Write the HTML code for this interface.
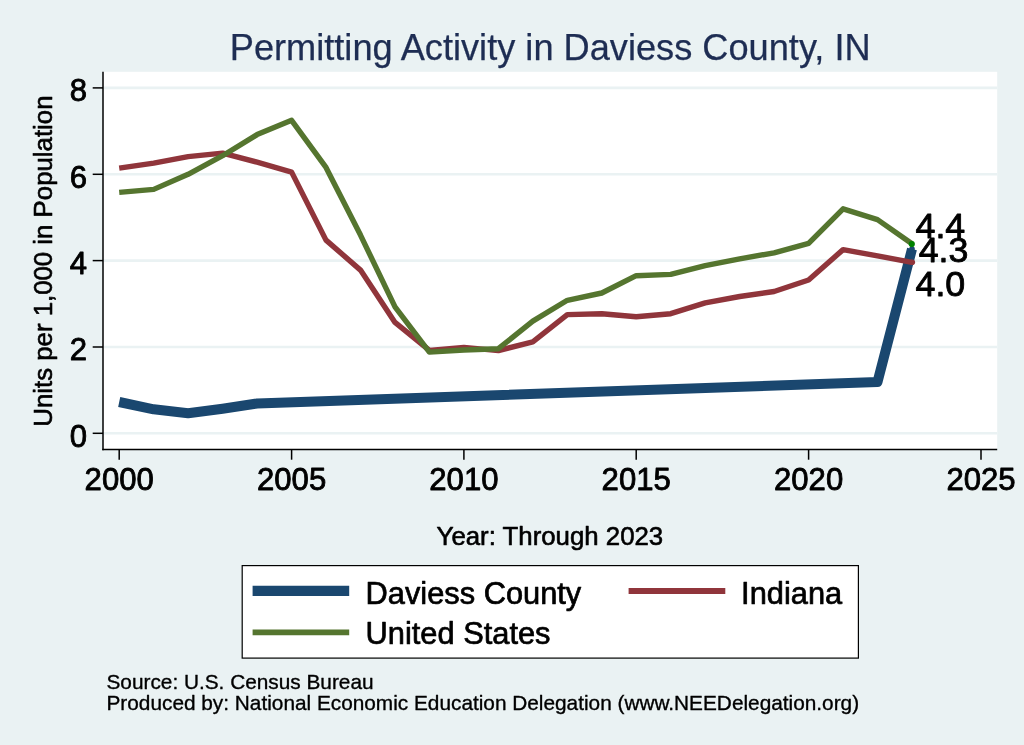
<!DOCTYPE html>
<html lang="en">
<head>
<meta charset="utf-8">
<title>Permitting Activity in Daviess County, IN</title>
<style>
html,body{margin:0;padding:0;background:#eaf2f3;}
body{width:1024px;height:745px;overflow:hidden;}
svg{display:block;}
text{font-family:"Liberation Sans",Arial,Helvetica,sans-serif;fill:#000;stroke:#000;stroke-width:0.85px;stroke-linejoin:round;}
.sm text{stroke-width:0.35px;}
.lg text{stroke-width:0.7px;}
</style>
</head>
<body>
<svg width="1024" height="745" viewBox="0 0 1024 745">
<rect x="0" y="0" width="1024" height="745" fill="#eaf2f3"/>
<rect x="103.0" y="71.8" width="894.2" height="377.7" fill="#ffffff"/>
<g stroke="#eaf2f3" stroke-width="2.6"><line x1="103.0" x2="997.2" y1="433.3" y2="433.3"/><line x1="103.0" x2="997.2" y1="347.0" y2="347.0"/><line x1="103.0" x2="997.2" y1="260.6" y2="260.6"/><line x1="103.0" x2="997.2" y1="174.3" y2="174.3"/><line x1="103.0" x2="997.2" y1="87.9" y2="87.9"/></g>
<g fill="none" stroke-linejoin="round" stroke-linecap="butt">
<polyline points="119.2,402.0 153.7,409.3 188.1,413.2 222.6,408.7 257.1,403.5 877.5,382.1 912.0,249.0" stroke="#1a476f" stroke-width="10"/>
<polyline points="119.2,168.2 153.7,163.1 188.1,156.6 222.6,153.1 257.1,162.2 291.6,172.1 326.0,240.1 360.5,270.1 395.0,322.4 429.4,350.4 463.9,347.4 498.4,350.6 532.8,341.8 567.3,314.6 601.8,313.7 636.2,316.7 670.7,313.7 705.2,302.9 739.7,296.5 774.1,291.5 808.6,280.0 843.1,249.6 877.5,255.9 912.0,262.3" stroke="#90353b" stroke-width="5.4"/>
<polyline points="119.2,192.4 153.7,189.4 188.1,174.3 222.6,155.7 257.1,134.6 291.6,120.3 326.0,167.4 360.5,235.1 395.0,306.8 429.4,352.1 463.9,350.0 498.4,348.7 532.8,321.1 567.3,300.3 601.8,293.0 636.2,275.7 670.7,274.4 705.2,265.6 739.7,258.9 774.1,252.8 808.6,243.4 843.1,208.8 877.5,219.6 912.0,243.8" stroke="#55752f" stroke-width="5.4"/>
</g>
<circle cx="912.0" cy="249.0" r="2.8" fill="#1a476f"/>
<circle cx="912.3" cy="262.3" r="2.8" fill="#90353b"/>
<circle cx="911.8" cy="244.0" r="3.1" fill="#008000"/>
<g stroke="#000" stroke-width="1.5">
<line x1="103.0" x2="103.0" y1="71.8" y2="450.2"/>
<line x1="102.3" x2="997.2" y1="449.5" y2="449.5"/>
<line x1="92.7" x2="103.0" y1="433.3" y2="433.3"/><line x1="92.7" x2="103.0" y1="347.0" y2="347.0"/><line x1="92.7" x2="103.0" y1="260.6" y2="260.6"/><line x1="92.7" x2="103.0" y1="174.3" y2="174.3"/><line x1="92.7" x2="103.0" y1="87.9" y2="87.9"/><line x1="119.2" x2="119.2" y1="449.5" y2="459.7"/><line x1="291.6" x2="291.6" y1="449.5" y2="459.7"/><line x1="463.9" x2="463.9" y1="449.5" y2="459.7"/><line x1="636.2" x2="636.2" y1="449.5" y2="459.7"/><line x1="808.6" x2="808.6" y1="449.5" y2="459.7"/><line x1="981.0" x2="981.0" y1="449.5" y2="459.7"/>
</g>
<g font-size="31.1px"><text x="87.1" y="446.5" text-anchor="end">0</text><text x="87.1" y="360.2" text-anchor="end">2</text><text x="87.1" y="273.8" text-anchor="end">4</text><text x="87.1" y="187.5" text-anchor="end">6</text><text x="87.1" y="101.1" text-anchor="end">8</text></g><g font-size="31.1px"><text x="119.2" y="490.4" text-anchor="middle">2000</text><text x="291.6" y="490.4" text-anchor="middle">2005</text><text x="463.9" y="490.4" text-anchor="middle">2010</text><text x="636.2" y="490.4" text-anchor="middle">2015</text><text x="808.6" y="490.4" text-anchor="middle">2020</text><text x="981.0" y="490.4" text-anchor="middle">2025</text></g>
<g font-size="35.8px">
<text x="915.5" y="238.2">4.4</text>
<text x="918.7" y="262.3">4.3</text>
<text x="915.5" y="296.3">4.0</text>
</g>
<text x="550.2" y="59.8" text-anchor="middle" font-size="36.2px" style="fill:#1e2d53;stroke:#1e2d53;stroke-width:0.25px">Permitting Activity in Daviess County, IN</text>
<text x="549.9" y="544.9" text-anchor="middle" font-size="25.8px" style="stroke-width:0.6px">Year: Through 2023</text>
<text transform="translate(51.9 261.1) rotate(-90)" text-anchor="middle" font-size="25.8px" style="stroke-width:0.6px">Units per 1,000 in Population</text>
<rect x="242.2" y="565.6" width="616.2" height="92.5" fill="#ffffff" stroke="#000" stroke-width="1.2"/>
<line x1="252.6" x2="349.2" y1="590.9" y2="590.9" stroke="#1a476f" stroke-width="10.4"/>
<line x1="628.6" x2="725.3" y1="591" y2="591" stroke="#90353b" stroke-width="5.8"/>
<line x1="252.6" x2="349.2" y1="632.3" y2="632.3" stroke="#55752f" stroke-width="5.8"/>
<g font-size="30.8px" class="lg">
<text x="365.6" y="604">Daviess County</text>
<text x="741.1" y="604">Indiana</text>
<text x="365.6" y="644.3">United States</text>
</g>
<g font-size="20.8px" class="sm">
<text x="106.5" y="689.3">Source: U.S. Census Bureau</text>
<text x="106.5" y="709.6">Produced by: National Economic Education Delegation (www.NEEDelegation.org)</text>
</g>
</svg>
</body>
</html>
